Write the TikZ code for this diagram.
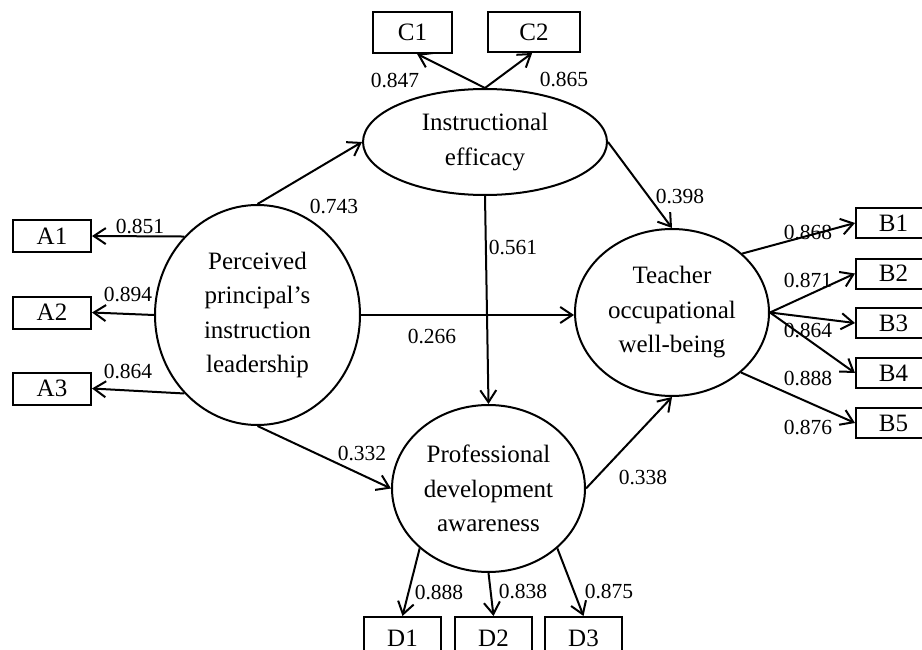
\documentclass[tikz,border=0pt]{standalone}
\usepackage{fontspec}
\setmainfont{Liberation Serif}
\usetikzlibrary{shapes.geometric,arrows.meta}
\begin{document}
\begin{tikzpicture}[x=1pt,y=-1pt,
 lat/.style={draw,ellipse,line width=2pt,inner sep=0pt,align=center,font=\fontsize{25}{34.5}\selectfont},
 obs/.style={draw,rectangle,line width=2pt,inner sep=0pt,font=\fontsize{25}{30}\selectfont},
 coef/.style={inner sep=0pt,font=\fontsize{21.5}{26}\selectfont},
 conn/.style={line width=2pt,-{Straight Barb[length=12pt,width=16pt]}}]
\useasboundingbox (0,0) rectangle (922,650);

% observed indicators
\node[obs,minimum width=79,minimum height=41] (C1) at (412.5,32.5) {C1};
\node[obs,minimum width=92,minimum height=40] (C2) at (534,32) {C2};
\node[obs,minimum width=78,minimum height=32] (A1) at (52,236) {A1};
\node[obs,minimum width=78,minimum height=32] (A2) at (52,312.5) {A2};
\node[obs,minimum width=78,minimum height=32] (A3) at (52,388.5) {A3};
\node[obs,minimum width=75,minimum height=30] (B1) at (893.5,223) {B1};
\node[obs,minimum width=75,minimum height=30] (B2) at (893.5,273.5) {B2};
\node[obs,minimum width=75,minimum height=30] (B3) at (893.5,323) {B3};
\node[obs,minimum width=75,minimum height=30] (B4) at (893.5,373) {B4};
\node[obs,minimum width=75,minimum height=30] (B5) at (893.5,423) {B5};
\node[obs,minimum width=77,minimum height=42] (D1) at (402.5,638) {D1};
\node[obs,minimum width=77,minimum height=42] (D2) at (493.5,638) {D2};
\node[obs,minimum width=77,minimum height=42] (D3) at (583.5,638) {D3};

% latent variables
\node[lat,minimum width=244,minimum height=106] (IE) at (485,142) {Instructional\\efficacy};
\node[lat,minimum width=205,minimum height=220] (PP) at (257.5,315) {Perceived\\principal's\\instruction\\leadership};
\node[lat,minimum width=194,minimum height=167] (TW) at (672,312.5) {Teacher\\occupational\\well-being};
\node[lat,minimum width=193,minimum height=167] (PD) at (488.5,488.5) {Professional\\development\\awareness};

% connectors
\draw[conn] (IE.north) -- (C1.-78);
\draw[conn] (IE.north) -- (C2.-95);
\draw[conn] (PP.133) -- (A1.east);
\draw[conn] (PP.west) -- (A2.east);
\draw[conn] (PP.227) -- (A3.east);
\draw[conn] (PP.north) -- (IE.west);
\draw[conn] (PP.east) -- (PP.east -| TW.west);
\draw[conn] (PP.south) -- (PD.west);
\draw[conn] (IE.south) -- (PD.north);
\draw[conn] (IE.east) -- (TW.north);
\draw[conn] (PD.east) -- (TW.south);
\draw[conn] (TW.40) -- (B1.west);
\draw[conn] (TW.east) -- (B2.west);
\draw[conn] (TW.east) -- (B3.west);
\draw[conn] (TW.east) -- (B4.west);
\draw[conn] (TW.-41) -- (B5.west);
\draw[conn] (PD.221) -- (D1.north);
\draw[conn] (PD.south) -- (D2.north);
\draw[conn] (PD.-41) -- (D3.north);

% coefficients
\node[coef] (kC1) at (395,81) {0.847};
\node[coef] (kC2) at (564,80) {0.865};
\node[coef] (kA1) at (140,227) {0.851};
\node[coef] (kA2) at (128,295) {0.894};
\node[coef] (kA3) at (128,372) {0.864};
\node[coef] (kPI) at (334,207) {0.743};
\node[coef] (kPT) at (432,337) {0.266};
\node[coef] (kPD) at (362,454) {0.332};
\node[coef] (kID) at (513,248) {0.561};
\node[coef] (kIT) at (680,197) {0.398};
\node[coef] (kDT) at (643,478) {0.338};
\node[coef] (kB1) at (808,233) {0.868};
\node[coef] (kB2) at (808,281) {0.871};
\node[coef] (kB3) at (808,331) {0.864};
\node[coef] (kB4) at (808,379) {0.888};
\node[coef] (kB5) at (808,428) {0.876};
\node[coef] (kD1) at (439,593) {0.888};
\node[coef] (kD2) at (523,591) {0.838};
\node[coef] (kD3) at (609,591) {0.875};
\end{tikzpicture}
\end{document}
